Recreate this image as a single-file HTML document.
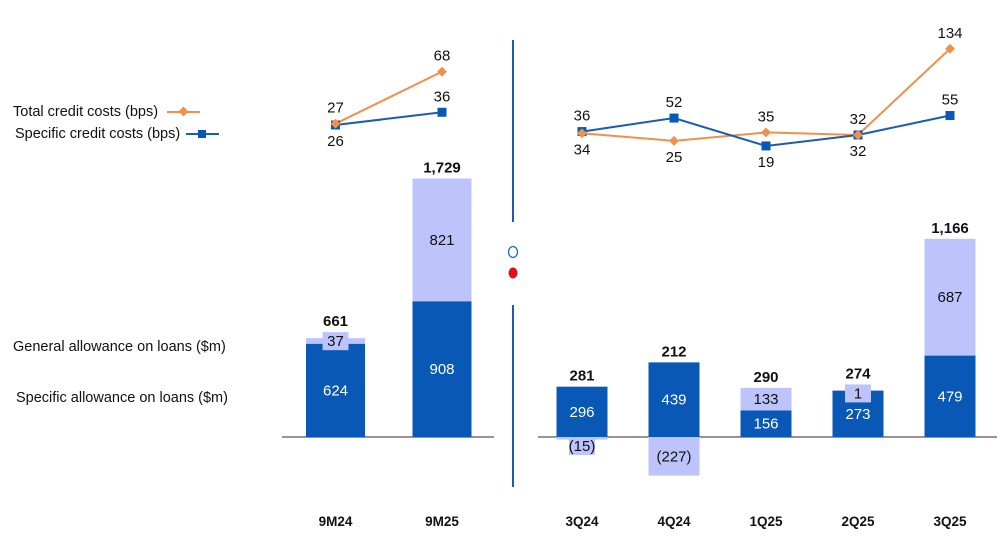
<!DOCTYPE html>
<html><head><meta charset="utf-8"><style>
html,body{margin:0;padding:0;background:#fff;}
svg{display:block;font-family:"Liberation Sans",Arial,sans-serif;}
</style></head><body>
<svg id="c" width="1000" height="542" viewBox="0 0 1000 542">
<g>
<text x="13" y="116" font-size="14.5" fill="#111">Total credit costs (bps)</text>
<line x1="167" y1="112" x2="200" y2="112" stroke="#f0904a" stroke-width="2"/>
<rect x="180" y="108" width="7" height="7" fill="#f0904a" transform="rotate(45 183.5 111.5)"/>
<text x="15" y="138" font-size="14.5" fill="#111">Specific credit costs (bps)</text>
<line x1="186" y1="134" x2="219" y2="134" stroke="#1a5cb0" stroke-width="2"/>
<rect x="198" y="130" width="8" height="8" fill="#0a58b5"/>
<text x="13" y="351" font-size="14.5" fill="#111">General allowance on loans ($m)</text>
<text x="16" y="402" font-size="14.5" fill="#111">Specific allowance on loans ($m)</text>
</g>
<g>
<line x1="513" y1="40" x2="513" y2="222" stroke="#1a5cb0" stroke-width="2"/>
<line x1="513" y1="305" x2="513" y2="487" stroke="#1a5cb0" stroke-width="2"/>
<ellipse cx="513" cy="252" rx="4.5" ry="5.5" fill="#fff" stroke="#1a6ac0" stroke-width="1.3"/>
<ellipse cx="513" cy="273" rx="4.5" ry="5.5" fill="#e0101a"/>
</g>
<g id="bars"></g>
<g id="lines"></g>
</svg>
<script>
const catsL=["9M24","9M25"];
const specL=[624,908];
const genL=[37,821];
const totL=[661,1729];
const totCostL=[27,68];
const specCostL=[26,36];
const catsR=["3Q24","4Q24","1Q25","2Q25","3Q25"];
const specR=[296,439,156,273,479];
const genR=[-15,-227,133,1,687];
const totR=[281,212,290,274,1166];
const totCostR=[34,25,35,32,134];
const specCostR=[36,52,19,32,55];

const NS="http://www.w3.org/2000/svg";
const bars=document.getElementById('bars'), lines=document.getElementById('lines');
function mk(tag,attrs,parent){const e=document.createElementNS(NS,tag);for(const k in attrs)e.setAttribute(k,attrs[k]);parent.appendChild(e);return e;}
function txt(x,y,s,opt,parent){const t=mk('text',Object.assign({x:x,y:y,'text-anchor':'middle','font-size':15,fill:'#111'},opt||{}),parent);t.textContent=s;return t;}
const base=437;
function fmt(v){const a=Math.abs(v).toLocaleString('en-US');return v<0?'('+a+')':a;}

function panel(cats,spec,gen,tot,tc,sc,x0,step,bw,k,ax1,ax2,ly0,lk){
  const xc=i=>x0+i*step;
  const yv=v=>base-v*k;
  const yl=v=>ly0-v*lk;
  const ax=mk('line',{x1:ax1,y1:base,x2:ax2,y2:base,stroke:'#555','stroke-width':1.3},bars);
  
  
  cats.forEach((c,i)=>{
    const x=xc(i);
    const s=spec[i], g=gen[i];
    const sr=mk('rect',{x:x-bw/2,y:yv(s),width:bw,height:s*k,fill:'#0a58b5'},bars);
    
    
    let gy,gh;
    if(g>=0){gy=yv(s+g);gh=g*k;}else{gy=base;gh=-g*k;}
    const small=Math.abs(g)<50;
    const gr=mk('rect',{x:x-bw/2,y:gy,width:bw,height:gh,fill:'#bcc4fb'},bars);
    
    
    if(small){
      const ly=g>=0?gy-6:gy;
      mk('rect',{x:x-13,y:ly,width:26,height:18,fill:'#bcc4fb'},bars);
      txt(x,ly+14,fmt(g),{},bars);
    } else {
      txt(x,gy+gh/2+5,fmt(g),{},bars);
    }
    txt(x,yv(s)+s*k/2+5,fmt(s),{fill:'#fff'},bars);
    const top=Math.min(yv(s+Math.max(g,0)),yv(s));
    const tl=txt(x,(small&&g>=0?top-6:top)-6,fmt(tot[i]),{'font-weight':'bold'},bars);
    
    
    const cl=txt(x,526,c,{'font-weight':'bold','font-size':13.5},bars);
    
    
  });
  const pt=tc.map((v,i)=>xc(i)+','+yl(v)).join(' ');
  const ps=sc.map((v,i)=>xc(i)+','+yl(v)).join(' ');
  const l1=mk('polyline',{points:pt,fill:'none',stroke:'#f0904a','stroke-width':2},lines);
  
  
  const l2=mk('polyline',{points:ps,fill:'none',stroke:'#1a5cb0','stroke-width':2},lines);
  
  
  sc.forEach((v,i)=>{
    const m=mk('rect',{x:xc(i)-4.5,y:yl(v)-4.5,width:9,height:9,fill:'#0a58b5'},lines);
    
    
  });
  tc.forEach((v,i)=>{
    const m=mk('rect',{x:xc(i)-3.5,y:yl(v)-3.5,width:7,height:7,fill:'#f0904a',transform:'rotate(45 '+xc(i)+' '+yl(v)+')'},lines);
    
    
  });
  tc.forEach((v,i)=>{
    const gap=Math.abs(yl(v)-yl(sc[i]));
    const totAbove=v>=sc[i];
    if(gap>25){
      txt(xc(i),yl(v)-11,String(v),{},lines);
      txt(xc(i),yl(sc[i])-11,String(sc[i]),{},lines);
    } else {
      txt(xc(i),totAbove?yl(v)-11:yl(v)+21,String(v),{},lines);
      txt(xc(i),totAbove?yl(sc[i])+21:yl(sc[i])-11,String(sc[i]),{},lines);
    }
  });
}
panel(catsL,specL,genL,totL,totCostL,specCostL,335.5,106.5,59,0.1495,282,494,158,1.27);
panel(catsR,specR,genR,totR,totCostR,specCostR,582,92,51,0.17,538,997,162,0.845);
</script>
</body></html>
